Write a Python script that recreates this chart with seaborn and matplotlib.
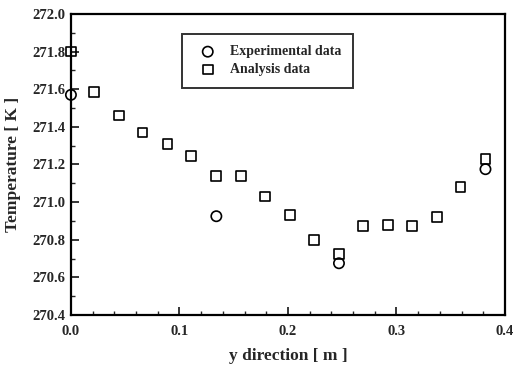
import matplotlib
matplotlib.use("Agg")
import matplotlib.pyplot as plt
import seaborn as sns
import pandas as pd
from matplotlib.ticker import MultipleLocator, FormatStrFormatter

# Data
analysis_y = [0.0, 0.021, 0.044, 0.066, 0.089, 0.111, 0.134, 0.157, 0.179, 0.202,
              0.224, 0.247, 0.269, 0.292, 0.314, 0.337, 0.359, 0.382]
analysis_T = [271.80, 271.585, 271.46, 271.37, 271.31, 271.245, 271.14, 271.14, 271.03, 270.93,
              270.80, 270.725, 270.875, 270.88, 270.875, 270.92, 271.08, 271.23]
exp_y = [0.0, 0.134, 0.247, 0.382]
exp_T = [271.57, 270.925, 270.675, 271.175]

sns.set_theme(style="white")
plt.rcParams['font.family'] = ['Liberation Serif', 'DejaVu Serif']
plt.rcParams['font.weight'] = 'bold'

fig = plt.figure(figsize=(5.14, 3.67), dpi=100)
ax = fig.add_axes([0.138, 0.1417, 0.8445, 0.8203])

df_exp = pd.DataFrame({"y": exp_y, "T": exp_T})
df_an = pd.DataFrame({"y": analysis_y, "T": analysis_T})

sns.scatterplot(data=df_exp, x="y", y="T", ax=ax, marker="o", s=55,
                facecolors="none", edgecolor="black", linewidth=1.2,
                label="Experimental data", clip_on=False, zorder=3)
sns.scatterplot(data=df_an, x="y", y="T", ax=ax, marker="s", s=50,
                facecolors="none", edgecolor="black", linewidth=1.2,
                label="Analysis data", clip_on=False, zorder=3)

ax.set_xlim(0, 0.4)
ax.set_ylim(270.4, 272.0)
ax.xaxis.set_major_locator(MultipleLocator(0.1))
ax.xaxis.set_minor_locator(MultipleLocator(0.02))
ax.yaxis.set_major_locator(MultipleLocator(0.2))
ax.yaxis.set_minor_locator(MultipleLocator(0.1))
ax.xaxis.set_major_formatter(FormatStrFormatter('%.1f'))
ax.yaxis.set_major_formatter(FormatStrFormatter('%.1f'))
ax.tick_params(axis='x', which='major', pad=7)
ax.tick_params(axis='y', which='major', pad=4)
ax.tick_params(axis='both', which='major', direction='in', length=6, width=1.3,
               labelsize=10.5, bottom=True, left=True, top=False, right=False)
ax.tick_params(axis='both', which='minor', direction='in', length=3, width=1.0,
               bottom=True, left=True, top=False, right=False)
for lab in ax.get_xticklabels() + ax.get_yticklabels():
    lab.set_fontweight('bold')

for s in ax.spines.values():
    s.set_visible(True)
    s.set_color('black')
    s.set_linewidth(1.6)

ax.set_xlabel("y direction [ m ]", fontsize=12.5, fontweight='bold', labelpad=7.5)
ax.set_ylabel("Temperature [ K ]", fontsize=12.5, fontweight='bold', labelpad=8)

leg = ax.legend(loc='upper left', bbox_to_anchor=(0.256, 0.935), frameon=True,
                fancybox=False, edgecolor='black', borderaxespad=0,
                prop={'weight': 'bold', 'size': 10}, handletextpad=0.6,
                borderpad=0.85, labelspacing=0.35)
leg.get_frame().set_linewidth(1.4)

fig.savefig("out.png", dpi=100)
